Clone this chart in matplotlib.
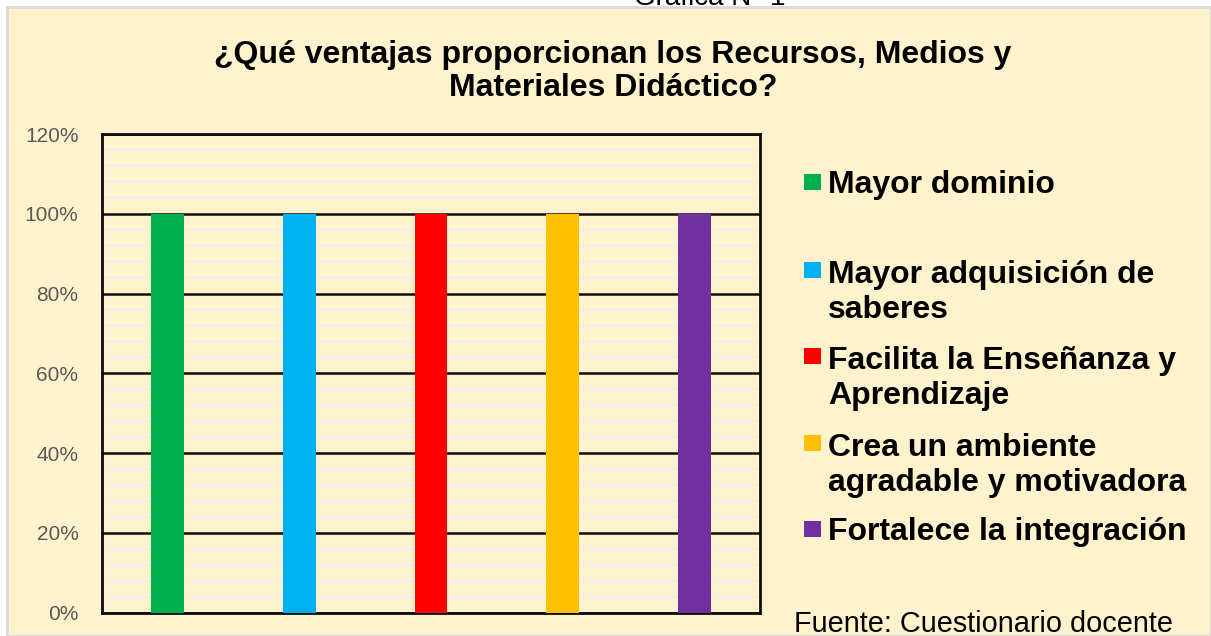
import matplotlib
matplotlib.use("Agg")
import matplotlib.pyplot as plt
from matplotlib.patches import Rectangle
from matplotlib.ticker import MultipleLocator, PercentFormatter

# datos de la grafica
categorias = ["Mayor dominio",
              "Mayor adquisición de\nsaberes",
              "Facilita la Enseñanza y\nAprendizaje",
              "Crea un ambiente\nagradable y motivadora",
              "Fortalece la integración"]
valores = [1.0, 1.0, 1.0, 1.0, 1.0]
colores = ["#00B050", "#00B0F0", "#FF0000", "#FFC000", "#7030A0"]

titulo = "¿Qué ventajas proporcionan los Recursos, Medios y\nMateriales Didáctico?"
fuente = "Fuente: Cuestionario docente"
grafica = "Gráfica N° 1"

W, H = 1211, 636
plt.rcParams['font.family'] = ['Liberation Sans', 'DejaVu Sans']


def fx(px):
    return px / W


def fy(py):
    return 1 - py / H


def main():
    fig = plt.figure(figsize=(W / 100, H / 100), dpi=100, facecolor="white")

    # fondo crema con borde gris (debajo de los ejes)
    fig.patches.append(Rectangle((fx(7), 0), 1 - fx(7), fy(7), transform=fig.transFigure,
                                 facecolor="#FFF2CC", edgecolor="#D9D9D9", linewidth=2, zorder=-5))

    ax = fig.add_axes([fx(102), fy(612.5), fx(760) - fx(102), fy(134.3) - fy(612.5)])
    ax.set_zorder(1)
    ax.set_facecolor("#FFF2CC")
    x = range(len(categorias))
    ax.bar(x, valores, width=0.25, color=colores, zorder=3)

    ax.set_xlim(-0.5, len(categorias) - 0.5)
    ax.set_ylim(0, 1.2)
    ax.set_xticks([])
    ax.yaxis.set_major_locator(MultipleLocator(0.2))
    ax.yaxis.set_minor_locator(MultipleLocator(0.04))
    ax.yaxis.set_major_formatter(PercentFormatter(1.0, decimals=0))
    ax.tick_params(axis="y", which="both", length=0, pad=17, labelsize=15, labelcolor="#595959")
    ax.grid(axis="y", which="minor", color="#EEEEEE", linewidth=1.6, zorder=1)
    ax.grid(axis="y", which="major", color="#0D0D0D", linewidth=1.8, zorder=2)
    ax.set_axisbelow(True)
    for s in ax.spines.values():
        s.set_color("#0D0D0D")
        s.set_linewidth(2)

    # titulo (va baseline ancla la ultima linea)
    fig.text(fx(613), fy(61.5 + 34), titulo, ha="center", va="baseline", fontsize=23,
             fontweight="bold", linespacing=1.13, multialignment="center")
    fig.text(fx(710), fy(5), grafica, ha="center", va="baseline", fontsize=20)

    # leyenda manual
    centros = [181.5, 270, 356, 443, 529]
    for cat, col, cy in zip(categorias, colores, centros):
        fig.patches.append(Rectangle((fx(804), fy(cy + 8)), fx(17), 16 / H,
                                     transform=fig.transFigure, facecolor=col,
                                     edgecolor="none", zorder=3))
        n = cat.count("\n")
        fig.text(fx(828), fy(cy + 11 + 37 * n), cat, ha="left", va="baseline", fontsize=23,
                 fontweight="bold", linespacing=1.234)

    fig.text(fx(794), fy(632), fuente, ha="left", va="baseline", fontsize=20.8)

    fig.savefig("out.png", dpi=100, facecolor="white")


if __name__ == "__main__":
    main()
